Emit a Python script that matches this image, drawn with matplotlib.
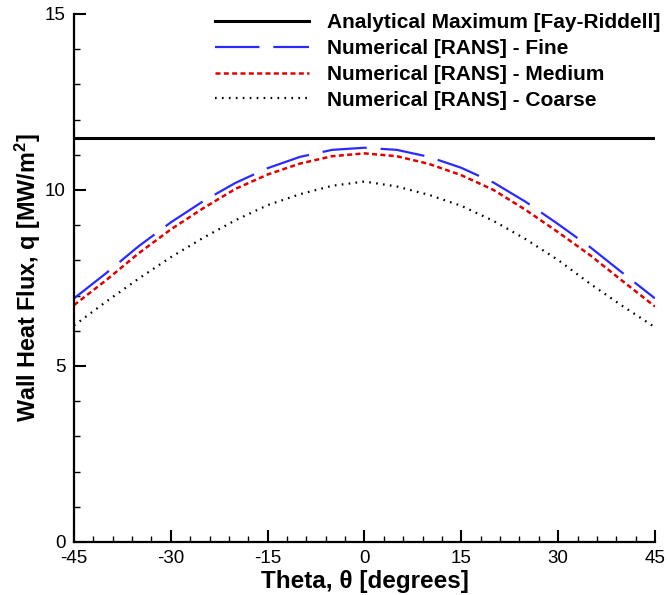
import matplotlib
matplotlib.use("Agg")
import matplotlib.pyplot as plt
from matplotlib.ticker import MultipleLocator

plt.rcParams['font.family'] = ['Liberation Sans', 'DejaVu Sans']
plt.rcParams['mathtext.fontset'] = 'custom'
plt.rcParams['mathtext.rm'] = 'Liberation Sans'
plt.rcParams['mathtext.bf'] = 'Liberation Sans:bold'
plt.rcParams['lines.scale_dashes'] = False
plt.rcParams['axes.unicode_minus'] = False

theta = [-45, -40, -35, -30, -25, -20, -15, -10, -5, 0, 5, 10, 15, 20, 25, 30, 35, 40, 45]
analytical_max = 11.48
fine = [6.92, 7.64, 8.40, 9.08, 9.68, 10.20, 10.62, 10.94, 11.14, 11.20, 11.14, 10.94, 10.63, 10.21, 9.66, 9.03, 8.37, 7.64, 6.92]
medium = [6.73, 7.44, 8.20, 8.88, 9.48, 10.03, 10.44, 10.75, 10.96, 11.04, 10.96, 10.74, 10.42, 10.00, 9.43, 8.80, 8.14, 7.41, 6.69]
coarse = [6.15, 6.83, 7.48, 8.09, 8.64, 9.14, 9.57, 9.88, 10.12, 10.24, 10.10, 9.86, 9.55, 9.12, 8.60, 8.01, 7.33, 6.70, 6.10]

labels = ["Analytical Maximum [Fay-Riddell]", "Numerical [RANS] - Fine",
          "Numerical [RANS] - Medium", "Numerical [RANS] - Coarse"]

fig = plt.figure(figsize=(6.68, 5.95), dpi=100)
ax = fig.add_axes([0.1108, 0.0891, 0.8697, 0.8874])

ax.axhline(analytical_max, color='black', lw=2.2, label=labels[0])
ax.plot(theta, fine, color='#2a2aff', lw=1.6, linestyle=(0, (32, 10)), label=labels[1])
ax.plot(theta, medium, color='#e00000', lw=1.8, linestyle=(0, (3.6, 2.4)), label=labels[2])
ax.plot(theta, coarse, color='black', lw=1.6, linestyle=(0, (1.2, 3.8)), label=labels[3])

ax.set_xlim(-45, 45)
ax.set_ylim(0, 15)
ax.xaxis.set_major_locator(MultipleLocator(15))
ax.xaxis.set_minor_locator(MultipleLocator(3))
ax.yaxis.set_major_locator(MultipleLocator(5))
ax.yaxis.set_minor_locator(MultipleLocator(1))
for s in ['top', 'right']:
    ax.spines[s].set_visible(False)
for s in ['left', 'bottom']:
    ax.spines[s].set_linewidth(1.6)
ax.tick_params(which='major', direction='in', length=8.6, width=1.5, labelsize=13.5)
ax.tick_params(which='minor', direction='in', length=4.3, width=1.0)
ax.tick_params(axis='x', which='major', pad=6)
ax.tick_params(axis='y', which='major', pad=6)

ax.set_xlabel("Theta, θ [degrees]", fontsize=17.5, fontweight='bold', labelpad=2)
ax.set_ylabel(r"Wall Heat Flux, q [MW/m$^{\mathbf{2}}$]", fontsize=16.8, fontweight='bold', labelpad=1)

leg = ax.legend(loc='upper right', bbox_to_anchor=(0.995, 0.985), bbox_transform=fig.transFigure,
                frameon=False, prop={'size': 15, 'weight': 'bold'}, handlelength=4.55,
                labelspacing=0.33, handletextpad=0.85, borderaxespad=0.0, borderpad=0.2)

fig.savefig("out.png", dpi=100)
